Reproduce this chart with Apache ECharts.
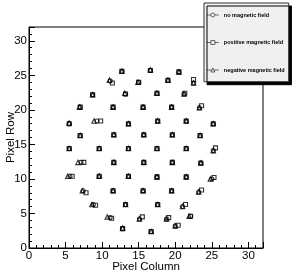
<!DOCTYPE html>
<html>
<head>
<meta charset="utf-8">
<script src="https://cdn.jsdelivr.net/npm/echarts@6/dist/echarts.min.js"></script>
<style>
html,body{margin:0;padding:0;background:#fff;}
#c{width:292px;height:277px;}
</style>
</head>
<body>
<div id="c"></div>
<script>
var seriesNames = ['no magnetic field', 'positive magnetic field', 'negative magnetic field'];
var xTicks = [0, 5, 10, 15, 20, 25, 30];
var yTicks = [0, 5, 10, 15, 20, 25, 30];

var noField = [
  [12.7,25.6],[16.6,25.7],[20.5,25.5],
  [11.1,24.2],[15.0,24.0],[19.0,24.3],[22.5,23.9],
  [8.7,22.2],[13.2,22.3],[17.5,22.4],[21.2,22.3],
  [7.0,20.4],[11.5,20.4],[15.6,20.4],[19.5,20.4],[23.3,20.3],
  [5.5,18.0],[9.3,18.4],[13.6,18.0],[17.6,18.4],[21.5,18.4],[25.2,18.0],
  [7.0,16.3],[11.6,16.4],[15.7,16.4],[19.6,16.4],[23.4,16.3],
  [5.5,14.4],[9.6,14.4],[13.6,14.4],[17.5,14.4],[21.5,14.4],[25.2,14.1],
  [7.1,12.4],[11.6,12.4],[15.7,12.4],[19.6,12.4],[23.5,12.3],
  [5.6,10.4],[9.6,10.4],[13.6,10.4],[17.5,10.3],[21.5,10.3],[25.0,10.0],
  [7.4,8.3],[11.5,8.3],[15.6,8.3],[19.5,8.3],[23.2,8.1],
  [8.8,6.3],[13.2,6.3],[17.6,6.3],[21.0,6.0],
  [11.1,4.4],[15.1,4.2],[18.8,4.2],[22.1,4.6],
  [12.8,2.8],[16.7,2.4],[20.0,3.2]
];
var posField = [
  [12.7,25.6],[16.6,25.7],[20.5,25.5],
  [11.4,23.9],[15.0,24.0],[19.0,24.3],[22.5,24.4],
  [8.7,22.2],[13.2,22.3],[17.5,22.4],[21.3,22.4],
  [7.0,20.4],[11.5,20.4],[15.6,20.4],[19.5,20.4],[23.6,20.6],
  [5.5,18.0],[9.8,18.4],[13.6,18.0],[17.6,18.4],[21.5,18.4],[25.2,18.0],
  [7.0,16.3],[11.6,16.4],[15.7,16.4],[19.6,16.4],[23.4,16.3],
  [5.5,14.4],[9.6,14.4],[13.6,14.4],[17.5,14.4],[21.5,14.4],[25.5,14.5],
  [7.5,12.4],[11.6,12.4],[15.7,12.4],[19.6,12.4],[23.5,12.3],
  [5.9,10.4],[9.6,10.4],[13.6,10.4],[17.5,10.3],[21.5,10.3],[25.3,10.2],
  [7.8,8.0],[11.5,8.3],[15.6,8.3],[19.5,8.3],[23.6,8.4],
  [9.1,6.2],[13.2,6.3],[17.6,6.3],[21.4,6.3],
  [11.3,4.3],[15.5,4.5],[19.1,4.4],[22.1,4.6],
  [12.8,2.8],[16.7,2.4],[20.4,3.3]
];
var negField = [
  [12.7,25.6],[16.6,25.8],[20.5,25.5],
  [11.0,24.3],[14.9,24.0],[19.0,24.3],[22.5,23.9],
  [8.7,22.2],[13.1,22.4],[17.5,22.4],[21.2,22.3],
  [6.9,20.4],[11.5,20.4],[15.6,20.4],[19.5,20.4],[23.3,20.3],
  [5.5,18.1],[8.9,18.4],[13.6,18.0],[17.6,18.4],[21.5,18.4],[25.2,18.0],
  [7.0,16.3],[11.6,16.4],[15.7,16.4],[19.6,16.4],[23.4,16.3],
  [5.5,14.4],[9.6,14.4],[13.6,14.4],[17.5,14.4],[21.5,14.4],[25.2,14.1],
  [6.7,12.4],[11.6,12.4],[15.7,12.4],[19.6,12.4],[23.5,12.3],
  [5.3,10.4],[9.6,10.4],[13.6,10.4],[17.5,10.3],[21.5,10.3],[24.8,10.0],
  [7.3,8.3],[11.5,8.3],[15.6,8.3],[19.5,8.3],[23.2,8.1],
  [8.6,6.3],[13.2,6.3],[17.6,6.3],[21.0,6.0],
  [10.7,4.5],[15.1,4.2],[18.8,4.2],[21.9,4.6],
  [12.8,2.9],[16.7,2.4],[20.0,3.2]
];

var chart = echarts.init(document.getElementById('c'), null, {renderer: 'canvas'});
var font = 'Liberation Sans, Arial, Helvetica, sans-serif';
var mk = {color: 'transparent', borderColor: '#000', borderWidth: 1.1};

function axis(name, gap, ticks) {
  return {
    type: 'value', min: 0, max: 32, interval: 5,
    name: name, nameLocation: 'middle', nameGap: gap, nameMoveOverlap: false,
    nameTextStyle: {fontFamily: font, fontSize: 11.5, color: '#000'},
    axisLine: {show: true, onZero: false, lineStyle: {color: '#000', width: 1}},
    axisTick: {show: true, inside: true, length: 6, lineStyle: {color: '#000', width: 1}},
    minorTick: {show: true, splitNumber: 5, length: 3, lineStyle: {color: '#000', width: 1}},
    axisLabel: {fontFamily: font, fontSize: 11.5, color: '#000', margin: 2, showMaxLabel: false,
      formatter: function (v) { return ticks.indexOf(v) >= 0 ? String(v) : ''; }},
    splitLine: {show: false}
  };
}
var xa = axis('Pixel Column', 13, xTicks);
var ya = axis('Pixel Row', 12, yTicks);

chart.setOption({
  animation: false,
  backgroundColor: '#fff',
  grid: {left: 29, top: 27, right: 29, bottom: 29, containLabel: false, outerBoundsMode: 'none',
    show: true, borderColor: '#000', borderWidth: 1, backgroundColor: 'transparent'},
  xAxis: xa,
  yAxis: ya,
  legend: {
    orient: 'vertical', left: 204, top: 3,
    padding: [9, 4, 8.7, 2.5],
    itemGap: 21.5, itemWidth: 12, itemHeight: 4,
    backgroundColor: '#f0f0f0', borderColor: '#333', borderWidth: 1,
    shadowColor: '#000', shadowBlur: 0, shadowOffsetX: 3, shadowOffsetY: 3,
    textStyle: {fontFamily: font, fontSize: 5.5, lineHeight: 6, fontWeight: 'bold', color: '#000'},
    itemStyle: {color: 'transparent', borderColor: '#000', borderWidth: 0.7},
    data: [
      {name: seriesNames[0], icon: 'path://M0,2 L4,2 M8,2 L12,2 M8,2 A2,2 0 1 1 4,2 A2,2 0 1 1 8,2 Z'},
      {name: seriesNames[1], icon: 'path://M0,2 L4,2 M8,2 L12,2 M4,0 L8,0 L8,4 L4,4 Z'},
      {name: seriesNames[2], icon: 'path://M0,2 L5,2 M7,2 L12,2 M4,4 L6,0 L8,4 Z'}
    ]
  },
  series: [
    {name: seriesNames[0], type: 'scatter', data: noField, symbol: 'circle', symbolSize: 4, itemStyle: mk},
    {name: seriesNames[1], type: 'scatter', data: posField, symbol: 'rect', symbolSize: 4, itemStyle: mk},
    {name: seriesNames[2], type: 'scatter', data: negField, symbol: 'triangle', symbolSize: 4.5, itemStyle: mk}
  ]
});
</script>
</body>
</html>
